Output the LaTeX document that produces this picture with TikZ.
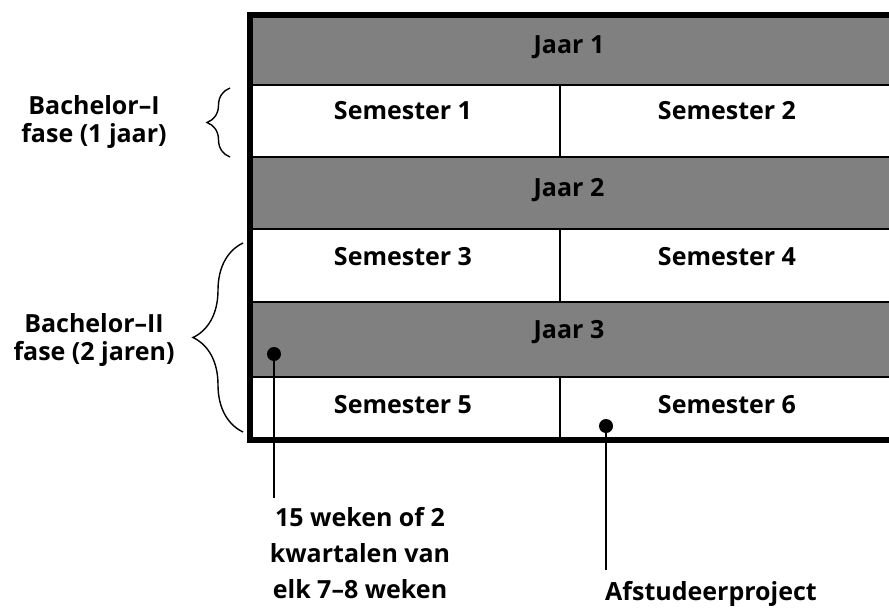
\documentclass[tikz,border=0pt]{standalone}
\usepackage{fontspec}
\setmainfont{Open Sans}
\usetikzlibrary{decorations.pathreplacing}
\begin{document}
\begin{tikzpicture}[x=1pt, y=-1pt, line cap=butt, line join=miter,
    txt/.style={font=\fontsize{25}{28}\selectfont\bfseries, inner sep=0pt, anchor=base},
    lbl/.style={font=\fontsize{25}{28}\selectfont\bfseries, inner sep=0pt, align=center, anchor=north},
    edot/.style={circle, fill, inner sep=0pt, minimum size=14pt},
    thin/.style={line width=2.2pt},
    frame/.style={line width=5.5pt},
    curly/.style={line width=1.4pt, decorate, decoration={brace, amplitude=#1}}]
  \useasboundingbox (0,0) rectangle (889,608);
  % year bars
  \fill[gray] (250,15) rectangle (889,85);
  \fill[gray] (250,157) rectangle (889,229);
  \fill[gray] (250,302) rectangle (889,377);
  \draw[thin] (250,85) -- (889,85);
  \draw[thin] (250,157) -- (889,157);
  \draw[thin] (250,229) -- (889,229);
  \draw[thin] (250,302) -- (889,302);
  \draw[thin] (250,377) -- (889,377);
  \draw[thin] (560,85) -- (560,157);
  \draw[thin] (560,229) -- (560,302);
  \draw[thin] (560,377) -- (560,440);
  \draw[frame] (889,15) -- (250,15) -- (250,440) -- (889,440);
  % cells
  \node[txt] (j1) at (569,53) {Jaar 1};
  \node[txt] (s1) at (403,119) {Semester 1};
  \node[txt] (s2) at (727,119) {Semester 2};
  \node[txt] (j2) at (569,196) {Jaar 2};
  \node[txt] (s3) at (403,265) {Semester 3};
  \node[txt] (s4) at (727,265) {Semester 4};
  \node[txt] (j3) at (569,338) {Jaar 3};
  \node[txt] (s5) at (403,413) {Semester 5};
  \node[txt] (s6) at (727,413) {Semester 6};
  % phases
  \draw[curly=23pt] (230,157) -- (230,88);
  \draw[curly=50pt] (243,432) -- (243,243);
  \node[lbl] (b1) at (94,95) {Bachelor–I\\fase (1 jaar)};
  \node[lbl] (b2) at (94,313) {Bachelor–II\\fase (2 jaren)};
  % pins
  \node[edot] (p1) at (274,354) {};
  \node[edot] (p2) at (606,426) {};
  \coordinate (p1e) at (274,498);
  \coordinate (p2e) at (606,570);
  \draw[thin] (p1.center) -- (p1e);
  \draw[thin] (p2.center) -- (p2e);
  \node[lbl, font=\fontsize{25}{36}\selectfont\bfseries] (n1) at (360,507)
    {15 weken of 2\\kwartalen van\\elk 7–8 weken};
  \node[txt] (n2) at (711,600) {Afstudeerproject};
\end{tikzpicture}
\end{document}
